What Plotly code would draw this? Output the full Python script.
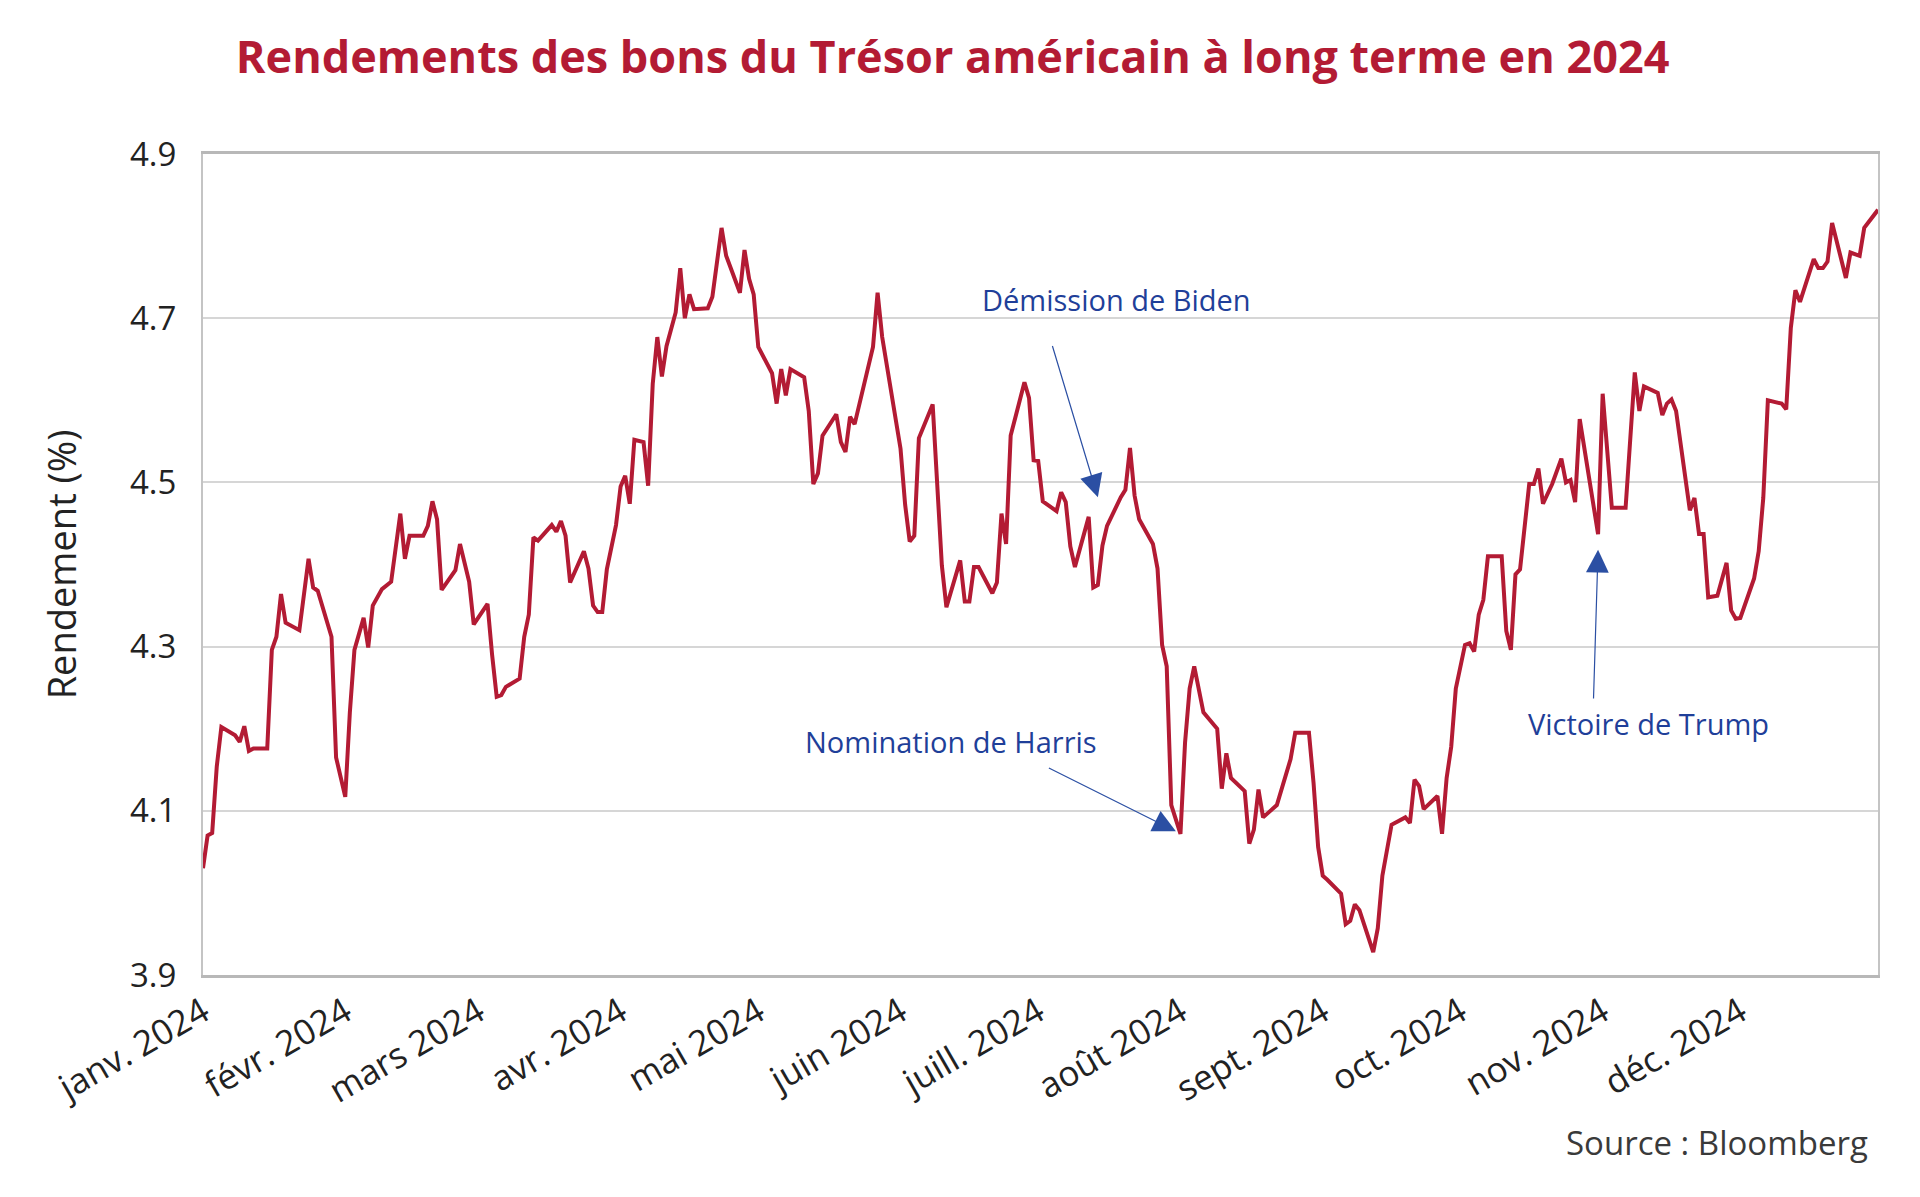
import plotly.graph_objects as go

# ---- data ----
dates = [
    "2024-01-01", "2024-01-02", "2024-01-03", "2024-01-04", "2024-01-05", "2024-01-08", "2024-01-09",
    "2024-01-10", "2024-01-11", "2024-01-12", "2024-01-15", "2024-01-16", "2024-01-17", "2024-01-18",
    "2024-01-19", "2024-01-22", "2024-01-24", "2024-01-25", "2024-01-26", "2024-01-29", "2024-01-30",
    "2024-02-01", "2024-02-02", "2024-02-03", "2024-02-05", "2024-02-06", "2024-02-07", "2024-02-09",
    "2024-02-11", "2024-02-13", "2024-02-14", "2024-02-15", "2024-02-18", "2024-02-19", "2024-02-20",
    "2024-02-21", "2024-02-22", "2024-02-25", "2024-02-26", "2024-02-28", "2024-02-29",
    "2024-03-03", "2024-03-04", "2024-03-05", "2024-03-06", "2024-03-07", "2024-03-10", "2024-03-11",
    "2024-03-12", "2024-03-13", "2024-03-14", "2024-03-17", "2024-03-18", "2024-03-19", "2024-03-20",
    "2024-03-21", "2024-03-24", "2024-03-25", "2024-03-26", "2024-03-27", "2024-03-28", "2024-03-29",
    "2024-03-31",
    "2024-04-01", "2024-04-02", "2024-04-03", "2024-04-04", "2024-04-06", "2024-04-07", "2024-04-08",
    "2024-04-09", "2024-04-10", "2024-04-11", "2024-04-13", "2024-04-14", "2024-04-15", "2024-04-16",
    "2024-04-17", "2024-04-20", "2024-04-21", "2024-04-23", "2024-04-24", "2024-04-27", "2024-04-28",
    "2024-04-29", "2024-04-30",
    "2024-05-01", "2024-05-04", "2024-05-05", "2024-05-06", "2024-05-07", "2024-05-08", "2024-05-11",
    "2024-05-12", "2024-05-13", "2024-05-14", "2024-05-15", "2024-05-18", "2024-05-19", "2024-05-20",
    "2024-05-21", "2024-05-22", "2024-05-26", "2024-05-27", "2024-05-28",
    "2024-06-01", "2024-06-02", "2024-06-03", "2024-06-04", "2024-06-05", "2024-06-08", "2024-06-10",
    "2024-06-11", "2024-06-14", "2024-06-15", "2024-06-16", "2024-06-17", "2024-06-18", "2024-06-21",
    "2024-06-22", "2024-06-23", "2024-06-24", "2024-06-25", "2024-06-28", "2024-06-29", "2024-06-30",
    "2024-07-01", "2024-07-02", "2024-07-05", "2024-07-06", "2024-07-07", "2024-07-08", "2024-07-09",
    "2024-07-12", "2024-07-13", "2024-07-14", "2024-07-15", "2024-07-16", "2024-07-19", "2024-07-20",
    "2024-07-21", "2024-07-22", "2024-07-23", "2024-07-26", "2024-07-27", "2024-07-28", "2024-07-29",
    "2024-07-30",
    "2024-08-01", "2024-08-02", "2024-08-03", "2024-08-04", "2024-08-06", "2024-08-09", "2024-08-10",
    "2024-08-11", "2024-08-12", "2024-08-15", "2024-08-16", "2024-08-17", "2024-08-18", "2024-08-19",
    "2024-08-22", "2024-08-24", "2024-08-25", "2024-08-26", "2024-08-29", "2024-08-30", "2024-08-31",
    "2024-09-01", "2024-09-02", "2024-09-05", "2024-09-06", "2024-09-07", "2024-09-08", "2024-09-09",
    "2024-09-12", "2024-09-13", "2024-09-14", "2024-09-16", "2024-09-19", "2024-09-20", "2024-09-21",
    "2024-09-22", "2024-09-23", "2024-09-26", "2024-09-27", "2024-09-28", "2024-09-29", "2024-09-30",
    "2024-10-02", "2024-10-03", "2024-10-04", "2024-10-05", "2024-10-06", "2024-10-07", "2024-10-10",
    "2024-10-11", "2024-10-12", "2024-10-13", "2024-10-14", "2024-10-16", "2024-10-17", "2024-10-18",
    "2024-10-19", "2024-10-21", "2024-10-23", "2024-10-24", "2024-10-25", "2024-10-26", "2024-10-27",
    "2024-10-31",
    "2024-11-01", "2024-11-03", "2024-11-06", "2024-11-08", "2024-11-09", "2024-11-10", "2024-11-13",
    "2024-11-14", "2024-11-15", "2024-11-16", "2024-11-17", "2024-11-20", "2024-11-21", "2024-11-22",
    "2024-11-23", "2024-11-24", "2024-11-26", "2024-11-28", "2024-11-29", "2024-11-30",
    "2024-12-01", "2024-12-04", "2024-12-05", "2024-12-06", "2024-12-07", "2024-12-10", "2024-12-11",
    "2024-12-12", "2024-12-13", "2024-12-14", "2024-12-17", "2024-12-18", "2024-12-19", "2024-12-20",
    "2024-12-21", "2024-12-24", "2024-12-25", "2024-12-27", "2024-12-28", "2024-12-31",
]

yields = [
    4.030, 4.070, 4.073, 4.154, 4.202, 4.192, 4.184,
    4.203, 4.173, 4.176, 4.176, 4.296, 4.312, 4.364,
    4.329, 4.320, 4.407, 4.372, 4.368, 4.312, 4.165,
    4.117, 4.220, 4.296, 4.335, 4.299, 4.350, 4.370,
    4.379, 4.462, 4.407, 4.435, 4.435, 4.447, 4.477,
    4.455, 4.369, 4.393, 4.425, 4.379, 4.327,
    4.352, 4.290, 4.239, 4.241, 4.251, 4.261, 4.312,
    4.339, 4.433, 4.429, 4.448, 4.440, 4.453, 4.435,
    4.378, 4.416, 4.395, 4.350, 4.342, 4.342, 4.394,
    4.448,
    4.495, 4.508, 4.474, 4.552, 4.549, 4.496, 4.620,
    4.677, 4.629, 4.666, 4.707, 4.761, 4.700, 4.729,
    4.711, 4.712, 4.726, 4.810, 4.776, 4.731, 4.783,
    4.748, 4.729,
    4.665, 4.633, 4.596, 4.638, 4.606, 4.638, 4.628,
    4.587, 4.498, 4.511, 4.557, 4.583, 4.549, 4.537,
    4.580, 4.571, 4.665, 4.731, 4.677,
    4.541, 4.473, 4.428, 4.435, 4.554, 4.595, 4.399,
    4.348, 4.405, 4.355, 4.355, 4.397, 4.397, 4.365,
    4.378, 4.462, 4.425, 4.557, 4.622, 4.603, 4.527,
    4.526, 4.477, 4.465, 4.488, 4.476, 4.422, 4.397,
    4.458, 4.372, 4.375, 4.423, 4.447, 4.482, 4.491,
    4.542, 4.484, 4.455, 4.425, 4.395, 4.302, 4.276,
    4.107,
    4.072, 4.183, 4.249, 4.276, 4.220, 4.200, 4.127,
    4.170, 4.140, 4.124, 4.060, 4.077, 4.126, 4.092,
    4.107, 4.142, 4.163, 4.195, 4.195, 4.134, 4.056,
    4.021, 4.016, 3.999, 3.962, 3.966, 3.986, 3.979,
    3.928, 3.957, 4.021, 4.083, 4.092, 4.085, 4.138,
    4.130, 4.102, 4.118, 4.072, 4.140, 4.178, 4.249,
    4.302, 4.304, 4.294, 4.339, 4.357, 4.410, 4.410,
    4.319, 4.296, 4.388, 4.394, 4.498, 4.498, 4.517,
    4.474, 4.498, 4.529, 4.500, 4.503, 4.476, 4.577,
    4.437,
    4.608, 4.469, 4.469, 4.634, 4.587, 4.617, 4.609,
    4.582, 4.596, 4.601, 4.587, 4.466, 4.481, 4.437,
    4.437, 4.360, 4.362, 4.402, 4.344, 4.334,
    4.335, 4.383, 4.416, 4.481, 4.600, 4.596, 4.589,
    4.688, 4.734, 4.720, 4.772, 4.761, 4.761, 4.769,
    4.816, 4.749, 4.780, 4.776, 4.810, 4.832,
]

month_ticks = ["2024-01-01", "2024-02-01", "2024-03-01", "2024-04-01", "2024-05-01", "2024-06-01",
               "2024-07-01", "2024-08-01", "2024-09-01", "2024-10-01", "2024-11-01", "2024-12-01"]
month_labels = ["janv. 2024", "févr. 2024", "mars 2024", "avr. 2024", "mai 2024", "juin 2024",
                "juill. 2024", "août 2024", "sept. 2024", "oct. 2024", "nov. 2024", "déc. 2024"]
y_ticks = [3.9, 4.1, 4.3, 4.5, 4.7, 4.9]
y_labels = ["3.9", "4.1", "4.3", "4.5", "4.7", "4.9"]

# events: label, text position, arrow tail, arrow head
events = [
    {"label": "Démission de Biden", "text_x": "2024-07-18", "text_y": 4.723,
     "tail_x": "2024-07-04", "tail_y": 4.668, "head_x": "2024-07-14", "head_y": 4.482},
    {"label": "Nomination de Harris", "text_x": "2024-06-12", "text_y": 4.184,
     "tail_x": "2024-07-03", "tail_y": 4.153, "head_x": "2024-07-31", "head_y": 4.075},
    {"label": "Victoire de Trump", "text_x": "2024-11-11", "text_y": 4.206,
     "tail_x": "2024-10-30", "tail_y": 4.235, "head_x": "2024-10-31", "head_y": 4.418},
]

RED = "#B31B34"
BLUE = "#1F3F99"
FONT = "'Open Sans', Lato, sans-serif"

fig = go.Figure()
fig.add_trace(go.Scatter(
    x=dates, y=yields, mode="lines",
    line=dict(color=RED, width=4),
    hoverinfo="x+y", showlegend=False,
))

annotations = []
for ev in events:
    annotations.append(dict(
        x=ev["text_x"], y=ev["text_y"], xref="x", yref="y",
        text=ev["label"], showarrow=False,
        font=dict(family=FONT, size=29, color=BLUE),
        xanchor="center", yanchor="middle",
    ))
    annotations.append(dict(
        x=ev["head_x"], y=ev["head_y"], xref="x", yref="y",
        ax=ev["tail_x"], ay=ev["tail_y"], axref="x", ayref="y",
        text="", showarrow=True, arrowhead=2, arrowsize=3.8,
        arrowwidth=1.2, arrowcolor="#2B4FA3", standoff=0,
    ))

annotations.append(dict(
    x=0.9955, y=-0.2046, xref="paper", yref="paper",
    text="Source : Bloomberg", showarrow=False,
    xanchor="right", yanchor="middle",
    font=dict(family=FONT, size=33, color="#3A3A3A"),
))

fig.update_layout(
    width=1920, height=1197,
    paper_bgcolor="white", plot_bgcolor="white",
    margin=dict(l=195, r=50, t=146, b=230),
    title=dict(
        text="<b>Rendements des bons du Trésor américain à long terme en 2024</b>",
        x=0.492, xanchor="center", y=0.959, yanchor="middle",
        font=dict(family=FONT, size=45, color=RED),
    ),
    font=dict(family=FONT, color="#222222"),
    annotations=annotations,
)

fig.update_xaxes(
    type="date",
    range=["2024-01-01", "2024-12-31"],
    tickmode="array", tickvals=month_ticks, ticktext=month_labels,
    tickangle=-30, tickfont=dict(family=FONT, size=35, color="#222222"),
    showgrid=False, ticks="", ticklen=0,
    showline=True, linecolor="#B8B8B8", linewidth=3, mirror=True,
)
fig.update_yaxes(
    range=[3.9, 4.9],
    tickmode="array", tickvals=y_ticks, ticktext=y_labels,
    tickfont=dict(family=FONT, size=33, color="#222222"),
    showgrid=True, gridcolor="#D6D6D6", gridwidth=2,
    showline=True, linecolor="#C4C4C4", linewidth=2, mirror=True,
    ticks="outside", ticklen=18, tickcolor="white",
    zeroline=False,
    title=dict(text="Rendement (%)", standoff=42,
               font=dict(family=FONT, size=38, color="#222222")),
)

fig.write_html("out.html")
